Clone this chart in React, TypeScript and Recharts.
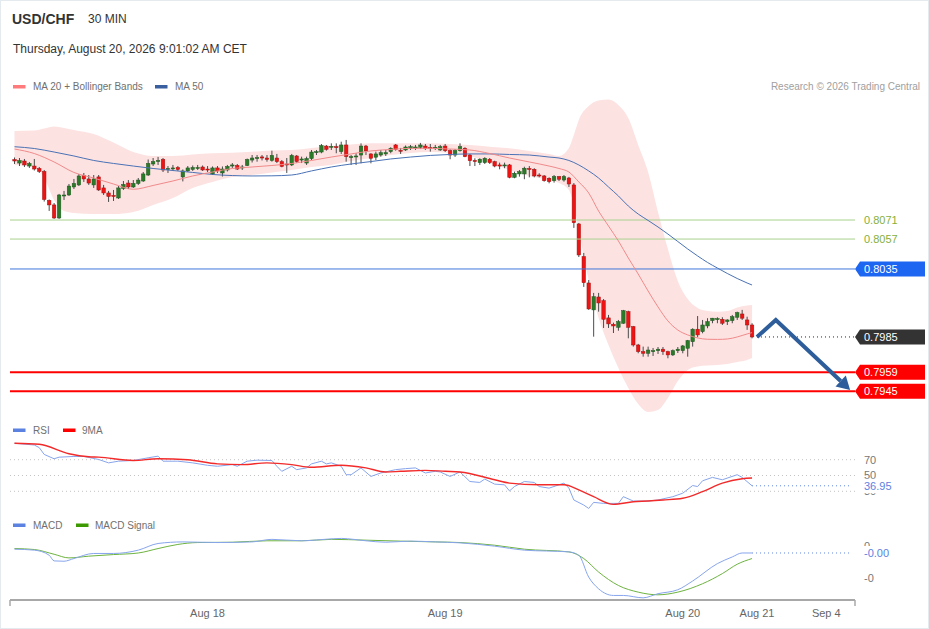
import React from 'react';
import { ComposedChart, Bar, Line, Area, XAxis, YAxis, ReferenceLine } from 'recharts';

// ---------- candles (30 min, index 0..149) ----------
const OPEN = [0.81155,0.81129,0.81144,0.81107,0.81107,0.81089,0.81067,0.80854,0.80821,0.80725,0.80887,0.80894,0.80953,0.80968,0.81037,0.81012,0.80968,0.81027,0.80946,0.80909,0.80891,0.80872,0.80942,0.80982,0.80953,0.80979,0.80997,0.81041,0.81122,0.81140,0.81155,0.81082,0.81089,0.81096,0.81027,0.81071,0.81082,0.81093,0.81100,0.81085,0.81049,0.81093,0.81056,0.81078,0.81107,0.81111,0.81093,0.81111,0.81151,0.81164,0.81174,0.81166,0.81148,0.81166,0.81139,0.81122,0.81115,0.81181,0.81151,0.81129,0.81162,0.81205,0.81210,0.81254,0.81245,0.81249,0.81213,0.81262,0.81172,0.81176,0.81188,0.81254,0.81196,0.81172,0.81188,0.81196,0.81213,0.81262,0.81223,0.81225,0.81238,0.81243,0.81245,0.81254,0.81243,0.81240,0.81225,0.81254,0.81220,0.81188,0.81220,0.81238,0.81188,0.81148,0.81132,0.81132,0.81157,0.81139,0.81115,0.81111,0.81115,0.81024,0.81049,0.81049,0.81089,0.81083,0.81041,0.81034,0.81017,0.80999,0.81029,0.81004,0.81019,0.80968,0.80681,0.80441,0.80247,0.80049,0.80144,0.80117,0.79990,0.79943,0.79921,0.79951,0.80036,0.79926,0.79791,0.79742,0.79730,0.79745,0.79749,0.79760,0.79742,0.79718,0.79749,0.79749,0.79767,0.79815,0.79907,0.79889,0.79931,0.79970,0.79980,0.79980,0.79963,0.79970,0.79995,0.80019,0.79975,0.79938];
const HIGH = [0.81170,0.81166,0.81159,0.81137,0.81159,0.81100,0.81078,0.80861,0.80835,0.80902,0.80924,0.80975,0.81012,0.81049,0.81056,0.81041,0.81041,0.81041,0.80968,0.80924,0.80931,0.80960,0.80997,0.81004,0.81004,0.81019,0.81063,0.81155,0.81166,0.81174,0.81166,0.81107,0.81115,0.81107,0.81082,0.81107,0.81111,0.81115,0.81111,0.81107,0.81104,0.81107,0.81104,0.81115,0.81129,0.81122,0.81115,0.81162,0.81188,0.81188,0.81188,0.81188,0.81220,0.81196,0.81151,0.81166,0.81196,0.81188,0.81176,0.81176,0.81225,0.81225,0.81269,0.81262,0.81274,0.81274,0.81286,0.81299,0.81188,0.81201,0.81274,0.81262,0.81201,0.81213,0.81225,0.81225,0.81245,0.81269,0.81240,0.81258,0.81262,0.81262,0.81277,0.81269,0.81269,0.81262,0.81262,0.81269,0.81230,0.81232,0.81274,0.81245,0.81196,0.81164,0.81164,0.81172,0.81166,0.81146,0.81132,0.81132,0.81122,0.81066,0.81078,0.81102,0.81107,0.81091,0.81054,0.81041,0.81024,0.81041,0.81034,0.81041,0.81027,0.80982,0.80688,0.80468,0.80269,0.80174,0.80174,0.80129,0.80012,0.79955,0.79975,0.80049,0.80043,0.79931,0.79799,0.79779,0.79779,0.79769,0.79776,0.79776,0.79749,0.79758,0.79776,0.79791,0.79828,0.79914,0.80004,0.79975,0.79988,0.79990,0.79995,0.79995,0.79980,0.80012,0.80036,0.80049,0.79999,0.79951];
const LOW = [0.81122,0.81107,0.81100,0.81093,0.81074,0.81056,0.80846,0.80777,0.80718,0.80718,0.80857,0.80887,0.80938,0.80960,0.80990,0.80968,0.80946,0.80924,0.80894,0.80843,0.80850,0.80865,0.80931,0.80938,0.80946,0.80968,0.80990,0.81034,0.81107,0.81115,0.81063,0.81056,0.81071,0.81071,0.80994,0.81063,0.81071,0.81078,0.81071,0.81063,0.81041,0.81056,0.81030,0.81067,0.81093,0.81078,0.81078,0.81107,0.81133,0.81139,0.81148,0.81139,0.81139,0.81129,0.81098,0.81056,0.81107,0.81129,0.81129,0.81115,0.81151,0.81188,0.81201,0.81220,0.81225,0.81201,0.81196,0.81139,0.81115,0.81115,0.81127,0.81188,0.81127,0.81151,0.81176,0.81181,0.81201,0.81220,0.81196,0.81218,0.81225,0.81225,0.81232,0.81225,0.81213,0.81225,0.81218,0.81210,0.81157,0.81174,0.81213,0.81172,0.81107,0.81107,0.81115,0.81122,0.81122,0.81098,0.81083,0.81091,0.81017,0.81017,0.81029,0.81010,0.81024,0.81024,0.81024,0.80992,0.80980,0.80985,0.80997,0.80992,0.80953,0.80652,0.80438,0.80218,0.80049,0.79852,0.80036,0.79916,0.79916,0.79879,0.79896,0.79946,0.79840,0.79779,0.79730,0.79705,0.79705,0.79710,0.79725,0.79718,0.79693,0.79710,0.79732,0.79730,0.79705,0.79779,0.79848,0.79877,0.79914,0.79951,0.79951,0.79938,0.79938,0.79951,0.79975,0.79975,0.79902,0.79840];
const CLOSE = [0.81144,0.81148,0.81115,0.81126,0.81085,0.81067,0.80861,0.80821,0.80725,0.80894,0.80894,0.80960,0.80979,0.81034,0.81012,0.80982,0.81012,0.80931,0.80909,0.80883,0.80883,0.80946,0.80972,0.80953,0.80979,0.81004,0.81049,0.81126,0.81140,0.81148,0.81078,0.81089,0.81093,0.81082,0.81071,0.81093,0.81096,0.81096,0.81078,0.81078,0.81093,0.81071,0.81085,0.81104,0.81115,0.81085,0.81100,0.81155,0.81166,0.81169,0.81166,0.81155,0.81185,0.81139,0.81104,0.81115,0.81185,0.81140,0.81159,0.81162,0.81210,0.81213,0.81258,0.81230,0.81252,0.81245,0.81262,0.81176,0.81176,0.81181,0.81254,0.81218,0.81164,0.81196,0.81205,0.81205,0.81238,0.81230,0.81218,0.81247,0.81249,0.81247,0.81262,0.81238,0.81240,0.81245,0.81249,0.81220,0.81188,0.81220,0.81249,0.81176,0.81146,0.81140,0.81157,0.81164,0.81132,0.81107,0.81107,0.81115,0.81024,0.81054,0.81066,0.81091,0.81085,0.81034,0.81037,0.80999,0.80992,0.81029,0.81010,0.81030,0.80975,0.80690,0.80453,0.80249,0.80056,0.80146,0.80100,0.79980,0.79946,0.79931,0.79963,0.80043,0.79921,0.79791,0.79742,0.79730,0.79754,0.79749,0.79760,0.79742,0.79718,0.79749,0.79760,0.79784,0.79823,0.79907,0.79865,0.79938,0.79963,0.79988,0.79985,0.79951,0.79975,0.79999,0.80029,0.79988,0.79938,0.79850];

// ---------- Bollinger bands ----------
const BAND_IDX = [0,4,6,8,10,12,16,20,24,28,32,36,40,44,48,52,56,60,64,68,72,76,80,84,88,92,96,100,104,108,110,112,113,114,116,118,120,122,124,126,128,130,132,134,136,138,140,142,144,146,148,149];
const BAND_UPPER = [0.81365,0.81368,0.81383,0.81398,0.81387,0.81372,0.81343,0.81280,0.81210,0.81181,0.81181,0.81192,0.81201,0.81205,0.81212,0.81221,0.81225,0.81240,0.81254,0.81265,0.81274,0.81274,0.81274,0.81274,0.81269,0.81262,0.81249,0.81237,0.81218,0.81196,0.81181,0.81240,0.81335,0.81446,0.81548,0.81589,0.81596,0.81556,0.81460,0.81262,0.81063,0.80769,0.80497,0.80262,0.80129,0.80063,0.80041,0.80036,0.80041,0.80067,0.80082,0.80085];
const BAND_LOWER = [0.81115,0.81100,0.81019,0.80857,0.80776,0.80762,0.80754,0.80754,0.80769,0.80821,0.80872,0.80946,0.80990,0.81026,0.81041,0.81060,0.81078,0.81100,0.81115,0.81144,0.81166,0.81188,0.81203,0.81210,0.81203,0.81181,0.81129,0.81078,0.81034,0.81004,0.80982,0.80931,0.80821,0.80637,0.80269,0.79990,0.79791,0.79622,0.79475,0.79357,0.79299,0.79313,0.79401,0.79526,0.79607,0.79633,0.79640,0.79644,0.79651,0.79666,0.79681,0.79695];

// ---------- moving averages ----------
const MA_IDX = [0,4,8,12,16,20,24,28,32,36,40,44,48,52,56,60,64,68,72,76,80,84,88,92,96,100,104,108,110,112,114,116,118,120,122,124,126,128,130,132,134,136,138,140,142,144,146,148,149];
const MA20 = [0.81232,0.81199,0.81137,0.81060,0.81019,0.80975,0.80936,0.80964,0.80997,0.81034,0.81063,0.81089,0.81100,0.81111,0.81126,0.81148,0.81173,0.81196,0.81218,0.81229,0.81237,0.81237,0.81232,0.81225,0.81199,0.81166,0.81137,0.81107,0.81089,0.81063,0.80990,0.80909,0.80776,0.80666,0.80556,0.80431,0.80313,0.80188,0.80071,0.79968,0.79901,0.79865,0.79843,0.79833,0.79832,0.79835,0.79850,0.79872,0.79882];
const MA50 = [0.81249,0.81236,0.81210,0.81181,0.81148,0.81126,0.81107,0.81089,0.81074,0.81060,0.81045,0.81037,0.81034,0.81035,0.81041,0.81071,0.81100,0.81122,0.81140,0.81159,0.81173,0.81185,0.81192,0.81196,0.81196,0.81192,0.81188,0.81173,0.81166,0.81148,0.81115,0.81071,0.81019,0.80953,0.80887,0.80813,0.80754,0.80707,0.80659,0.80607,0.80552,0.80497,0.80446,0.80398,0.80357,0.80317,0.80280,0.80247,0.80232];

// ---------- forecast path ----------
const FC_IDX = [150, 153.8, 166.9];
const FC_VAL = [0.7985, 0.79975, 0.79526];

// ---------- key levels ----------
const LEVEL_PRICES = [0.8071, 0.8057, 0.8035, 0.7959, 0.7945];

// ---------- RSI ----------
const RSI_IDX = [0,4,5,6,8,9,12,14,17,19,21,24,27,29,30,33,36,39,41,44,45,47,49,52,53,54,56,57,59,60,62,63,64,66,67,68,70,72,74,77,79,81,83,85,86,88,90,92,94,95,97,99,100,101,103,105,106,108,110,111,112,113,115,116,117,119,122,123,125,128,130,133,135,137,138,139,141,143,146,147,149];
const RSI_VAL = [90.8,88.6,85.3,76.7,71.2,73.2,74.1,74.1,70.3,66.0,68.1,69.0,72.4,74.5,68.1,68.1,66.0,62.9,61.7,63.8,61.7,68.1,69.4,69.0,61.7,55.3,61.7,57.4,59.6,64.7,68.1,64.7,66.0,61.7,51.0,51.0,59.6,48.8,53.2,57.4,58.7,59.6,53.2,55.3,54.5,48.8,54.5,42.4,41.2,45.5,39.1,38.2,30.5,36.0,42.4,41.2,36.0,34.0,38.2,40.4,34.0,19.0,12.6,8.3,16.0,14.7,14.7,23.2,17.7,17.7,19.0,23.2,27.6,37.3,36.0,43.3,47.6,44.6,51.0,47.6,36.95];
const RSI_MA_IDX = [0,5,11,15,17,24,29,35,41,46,51,56,60,66,71,75,78,83,87,90,97,100,106,111,114,117,121,125,128,131,135,139,143,147,149];
const RSI_MA_VAL = [90.8,89.5,77.6,73.7,73.2,69.0,71.2,69.9,64.7,63.8,66.0,63.8,60.4,62.9,59.6,54.5,55.3,56.5,55.3,54.5,44.6,40.4,38.2,38.2,31.8,23.2,13.5,16.8,17.7,19.0,21.2,29.6,40.4,45.9,46.8];
const RSI_LEVELS = [70, 50, 30];

// ---------- MACD ----------
const MACD_IDX = [0,4,7,8,10,12,16,20,25,29,34,41,48,52,58,63,66,71,75,80,85,90,97,103,112,114,116,118,121,123,127,130,134,137,142,145,147,149];
const MACD_VAL = [-0.00019,-0.00025,-0.00057,-0.00093,-0.00095,-0.00078,-0.00046,-0.00046,-0.00025,0.00017,0.00027,0.00023,0.00027,0.00043,0.00034,0.00044,0.00049,0.00034,0.00025,0.00032,0.00027,0.00021,0,-0.00025,-0.00036,-0.00057,-0.00195,-0.00269,-0.00311,-0.00311,-0.00326,-0.00300,-0.00275,-0.00220,-0.00110,-0.00068,-0.00043,-0.00043];
const SIG_IDX = [0,4,8,11,15,20,25,29,33,37,44,51,58,64,71,78,85,90,97,103,112,115,118,122,126,130,134,139,143,146,149];
const SIG_VAL = [-0.00015,-0.00021,-0.00051,-0.00074,-0.00063,-0.00053,-0.00043,-0.00015,0.00011,0.00023,0.00025,0.00034,0.00034,0.00043,0.00038,0.00032,0.00027,0.00023,0.00006,-0.00019,-0.00036,-0.00078,-0.00163,-0.00248,-0.00290,-0.00307,-0.00290,-0.00237,-0.00173,-0.00114,-0.00078];
const MACD_TICKS = [0, -0.002];

// ---------- time axis ----------
const TICK_IDX = [39, 87, 135, 150, 164];
const TICK_LABELS = ['Aug 18', 'Aug 19', 'Aug 20', 'Aug 21', 'Sep 4'];

// ---------- scales / layout ----------
const X_DOMAIN: [number, number] = [-0.909, 169.8];
const PRICE_DOMAIN: [number, number] = [0.79254, 0.816];
const RSI_DOMAIN: [number, number] = [0, 100];
const MACD_DOMAIN: [number, number] = [-0.003397, 0.001968];
const FONT = '"Liberation Sans", Arial, Helvetica, sans-serif';
const MARGIN = { top: 0, right: 74, bottom: 0, left: 10 };

const LEVEL_STYLE = [
  { stroke: '#a9d18e', width: 1, kind: 'plain', bg: '', fg: '#86b03a' },
  { stroke: '#a9d18e', width: 1, kind: 'plain', bg: '', fg: '#86b03a' },
  { stroke: '#3f78d8', width: 1, kind: 'box', bg: '#1c66f2', fg: '#ffffff' },
  { stroke: '#ff0000', width: 2, kind: 'box', bg: '#ff0000', fg: '#ffffff' },
  { stroke: '#ff0000', width: 2, kind: 'box', bg: '#ff0000', fg: '#ffffff' },
];

const candles = OPEN.map((o, i) => ({ i, o, h: HIGH[i], l: LOW[i], c: CLOSE[i] }));
const bandData = BAND_IDX.map((i, k) => ({ i, lo: BAND_LOWER[k], up: BAND_UPPER[k] }));
const ma20Data = MA_IDX.map((i, k) => ({ i, v: MA20[k] }));
const ma50Data = MA_IDX.map((i, k) => ({ i, v: MA50[k] }));
const fcData = FC_IDX.map((i, k) => ({ i, v: FC_VAL[k] }));
const lastIdx = OPEN.length - 1;
const lastClose = CLOSE[lastIdx];
const closeExt = [{ i: FC_IDX[0], v: lastClose }, { i: X_DOMAIN[1], v: lastClose }];
const rsiData = RSI_IDX.map((i, k) => ({ i, v: RSI_VAL[k] }));
const rsiMaData = RSI_MA_IDX.map((i, k) => ({ i, v: RSI_MA_VAL[k] }));
const lastRsi = RSI_VAL[RSI_VAL.length - 1];
const rsiExt = [{ i: RSI_IDX[RSI_IDX.length - 1], v: lastRsi }, { i: X_DOMAIN[1] - 0.6, v: lastRsi }];
const macdData = MACD_IDX.map((i, k) => ({ i, v: MACD_VAL[k] }));
const sigData = SIG_IDX.map((i, k) => ({ i, v: SIG_VAL[k] }));
const lastMacd = MACD_VAL[MACD_VAL.length - 1];
const macdExt = [{ i: MACD_IDX[MACD_IDX.length - 1], v: lastMacd }, { i: X_DOMAIN[1] - 0.6, v: lastMacd }];

function Candle(props: any) {
  const { x, y, width, height, payload } = props;
  if (!payload || x == null || y == null) return null;
  const cx = x + (width || 0) / 2;
  const top = Math.min(y, y + height);
  const bot = Math.max(y, y + height);
  const span = payload.h - payload.l;
  const toY = (v: number) => (span > 0 ? top + ((payload.h - v) / span) * (bot - top) : top);
  const yo = toY(payload.o);
  const yc = toY(payload.c);
  const up = payload.c >= payload.o;
  const bt = Math.min(yo, yc);
  const bh = Math.max(Math.abs(yo - yc), 1);
  return (
    <g>
      <line x1={cx} x2={cx} y1={top} y2={bot} stroke="#4b4b4b" strokeWidth={1} />
      <rect x={cx - 1.75} y={bt} width={3.5} height={bh} fill={up ? '#2a7a2a' : '#ee1414'} stroke={up ? '#1d561d' : '#a01010'} strokeWidth={0.5} />
    </g>
  );
}

const arrowState = { px: 0, py: 0 };
function ArrowDot(props: any) {
  const { cx, cy, index } = props;
  if (index < FC_IDX.length - 1) {
    arrowState.px = cx;
    arrowState.py = cy;
    return <g key={`a${index}`} />;
  }
  const dx = cx - arrowState.px;
  const dy = cy - arrowState.py;
  const len = Math.hypot(dx, dy) || 1;
  const ux = dx / len;
  const uy = dy / len;
  const L = 13;
  const W = 7.5;
  const pts = `${cx + ux * L},${cy + uy * L} ${cx - uy * W},${cy + ux * W} ${cx + uy * W},${cy - ux * W}`;
  return <polygon key={`a${index}`} points={pts} fill="#2d5d9b" />;
}

function Tag(props: any) {
  const { viewBox, text, kind, bg, fg } = props;
  if (!viewBox) return null;
  const x = viewBox.x + viewBox.width;
  const y = viewBox.y;
  if (kind === 'box') {
    const d = `M${x},${y} L${x + 5},${y - 7.5} L${x + 70},${y - 7.5} L${x + 70},${y + 7.5} L${x + 5},${y + 7.5} Z`;
    return (
      <g>
        <path d={d} fill={bg} />
        <text x={x + 9} y={y} dy="0.36em" fill={fg} fontSize={11} fontFamily={FONT}>{text}</text>
      </g>
    );
  }
  if (kind === 'value') {
    return (
      <g>
        <rect x={x + 4} y={y - 7} width={44} height={14.5} fill="#ffffff" />
        <text x={x + 9} y={y} dy="0.36em" fill={fg} fontSize={11} fontFamily={FONT}>{text}</text>
      </g>
    );
  }
  return <text x={x + 9} y={y} dy="0.36em" fill={fg} fontSize={11} fontFamily={FONT}>{text}</text>;
}

function AxisTick(props: any) {
  const { x, y, payload } = props;
  const k = TICK_IDX.indexOf(payload.value);
  if (k < 0) {
    return <line x1={x} x2={x} y1={y - 8} y2={y - 2} stroke="#a8a8a8" strokeWidth={1.5} />;
  }
  return (
    <text x={x} y={y} dy="0.85em" textAnchor="middle" fill="#666" fontSize={11} fontFamily={FONT}>
      {TICK_LABELS[k]}
    </text>
  );
}

export default function App() {
  return (
    <div style={{ position: 'relative', width: 929, height: 629, background: '#fff', fontFamily: FONT, boxSizing: 'border-box', border: '1px solid #e4eaed', overflow: 'hidden' }}>
      <style>{'body{margin:0}'}</style>

      {/* price panel */}
      <div style={{ position: 'absolute', left: -1, top: 94 }}>
        <ComposedChart width={929} height={330} data={candles} margin={{ top: 4, right: 74, bottom: 7, left: 10 }}>
          <XAxis type="number" dataKey="i" domain={X_DOMAIN} allowDataOverflow hide />
          <YAxis type="number" domain={PRICE_DOMAIN} allowDataOverflow hide />
          <Area data={bandData} dataKey={(d: any) => [d.lo, d.up]} type="monotone" stroke="none" fill="#fde2e2" fillOpacity={1} isAnimationActive={false} activeDot={false} />
          {LEVEL_PRICES.map((p, k) => (
            <ReferenceLine key={`lv${k}`} y={p} stroke={LEVEL_STYLE[k].stroke} strokeWidth={LEVEL_STYLE[k].width} ifOverflow="visible"
              label={<Tag text={p.toFixed(4)} kind={LEVEL_STYLE[k].kind} bg={LEVEL_STYLE[k].bg} fg={LEVEL_STYLE[k].fg} />} />
          ))}
          <ReferenceLine y={lastClose} stroke="none" ifOverflow="visible" label={<Tag text={lastClose.toFixed(4)} kind="box" bg="#333333" fg="#ffffff" />} />
          <Line data={ma50Data} dataKey="v" type="monotone" stroke="#4a72b5" strokeWidth={1} dot={false} activeDot={false} isAnimationActive={false} />
          <Line data={ma20Data} dataKey="v" type="monotone" stroke="#f08a8a" strokeWidth={1} dot={false} activeDot={false} isAnimationActive={false} />
          <Bar dataKey={(d: any) => [d.l, d.h]} barSize={3} shape={<Candle />} isAnimationActive={false} />
          <Line data={closeExt} dataKey="v" type="linear" stroke="#222" strokeWidth={1} strokeDasharray="1 3" dot={false} activeDot={false} isAnimationActive={false} />
          <Line data={fcData} dataKey="v" type="linear" stroke="#2d5d9b" strokeWidth={4} strokeLinejoin="miter" dot={ArrowDot} activeDot={false} isAnimationActive={false} />
        </ComposedChart>
      </div>

      {/* RSI panel */}
      <div style={{ position: 'absolute', left: -1, top: 435 }}>
        <ComposedChart width={929} height={79} margin={MARGIN}>
          <XAxis type="number" dataKey="i" domain={X_DOMAIN} allowDataOverflow hide />
          <YAxis type="number" domain={RSI_DOMAIN} allowDataOverflow hide />
          {RSI_LEVELS.map((lv) => (
            <ReferenceLine key={`r${lv}`} y={lv} stroke="#c4c4c4" strokeDasharray="1 3" ifOverflow="visible"
              label={<Tag text={String(lv)} kind="plain" fg="#777" />} />
          ))}
          <ReferenceLine y={lastRsi} stroke="none" ifOverflow="visible" label={<Tag text={lastRsi.toFixed(2)} kind="value" fg="#5b82e0" />} />
          <Line data={rsiExt} dataKey="v" type="linear" stroke="#5b82e0" strokeWidth={1} strokeDasharray="1 3" dot={false} activeDot={false} isAnimationActive={false} />
          <Line data={rsiData} dataKey="v" type="linear" stroke="#87a5ec" strokeWidth={1} dot={false} activeDot={false} isAnimationActive={false} />
          <Line data={rsiMaData} dataKey="v" type="monotone" stroke="#f22a2a" strokeWidth={1.4} dot={false} activeDot={false} isAnimationActive={false} />
        </ComposedChart>
      </div>

      {/* MACD panel */}
      <div style={{ position: 'absolute', left: -1, top: 514 }}>
        <ComposedChart width={929} height={114.5} margin={MARGIN}>
          <XAxis type="number" dataKey="i" domain={X_DOMAIN} allowDataOverflow ticks={[X_DOMAIN[0], ...TICK_IDX, X_DOMAIN[1]]} interval={0}
            tick={<AxisTick />} tickLine={false} axisLine={{ stroke: '#a8a8a8', strokeWidth: 2 }} height={29.5} />
          <YAxis type="number" domain={MACD_DOMAIN} allowDataOverflow hide />
          {MACD_TICKS.map((t) => (
            <ReferenceLine key={`m${t}`} y={t} stroke="none" ifOverflow="visible" label={<Tag text={t.toFixed(0)} kind="plain" fg="#777" />} />
          ))}
          <ReferenceLine y={lastMacd} stroke="none" ifOverflow="visible" label={<Tag text={lastMacd.toFixed(2)} kind="value" fg="#5b82e0" />} />
          <Line data={macdExt} dataKey="v" type="linear" stroke="#5b82e0" strokeWidth={1} strokeDasharray="1 3" dot={false} activeDot={false} isAnimationActive={false} />
          <Line data={sigData} dataKey="v" type="monotone" stroke="#6db33f" strokeWidth={1} dot={false} activeDot={false} isAnimationActive={false} />
          <Line data={macdData} dataKey="v" type="monotone" stroke="#87a5ec" strokeWidth={1} dot={false} activeDot={false} isAnimationActive={false} />
        </ComposedChart>
      </div>

      {/* header, legends, credit */}
      <svg width={929} height={629} style={{ position: 'absolute', left: -1, top: -1, pointerEvents: 'none' }} fontFamily={FONT}>
        <text x={12} y={19} dominantBaseline="central" fontSize={14} fontWeight="bold" fill="#333">USD/CHF</text>
        <text x={88} y={19} dominantBaseline="central" fontSize={12} fill="#333">30 MIN</text>
        <text x={13} y={49} dominantBaseline="central" fontSize={12} fill="#333">Thursday, August 20, 2026 9:01:02 AM CET</text>

        <rect x={13} y={85} width={12.5} height={3.5} fill="#ff7b7b" />
        <text x={33} y={86.5} dominantBaseline="central" fontSize={10} fill="#707070">MA 20 + Bollinger Bands</text>
        <rect x={155} y={85} width={12.5} height={3.5} fill="#3a5f9f" />
        <text x={175} y={86.5} dominantBaseline="central" fontSize={10} fill="#707070">MA 50</text>
        <text x={920} y={86.5} dominantBaseline="central" textAnchor="end" fontSize={10} fill="#a0a0a0">Research © 2026 Trading Central</text>

        <rect x={13} y={428.5} width={12.5} height={3.5} fill="#5b82e0" />
        <text x={33} y={430} dominantBaseline="central" fontSize={10} fill="#707070">RSI</text>
        <rect x={63} y={428.5} width={12.5} height={3.5} fill="#ff0000" />
        <text x={82} y={430} dominantBaseline="central" fontSize={10} fill="#707070">9MA</text>

        <rect x={13} y={523.5} width={12.5} height={3.5} fill="#5b82e0" />
        <text x={33} y={525} dominantBaseline="central" fontSize={10} fill="#707070">MACD</text>
        <rect x={76} y={523.5} width={12.5} height={3.5} fill="#3c9a00" />
        <text x={95} y={525} dominantBaseline="central" fontSize={10} fill="#707070">MACD Signal</text>
      </svg>
    </div>
  );
}
